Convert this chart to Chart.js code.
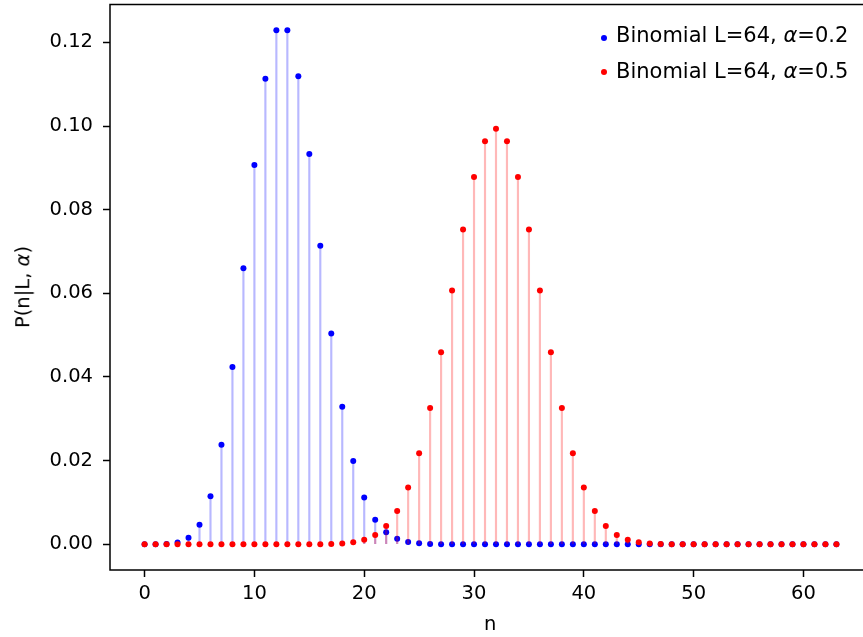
<!DOCTYPE html>
<html>
<head>
<meta charset="utf-8">
<script src="https://cdn.jsdelivr.net/npm/chart.js@4.4.0/dist/chart.umd.min.js"></script>
<style>
  html, body { margin: 0; padding: 0; background: #fff; overflow: hidden; }
  #wrap { position: relative; width: 880px; height: 637px; }
  #chart { position: absolute; left: 0; top: 0; }
  .lbl { position: absolute; font-family: "DejaVu Sans"; font-size: 19.5px; color: #000; white-space: nowrap; line-height: 1; }
  .leg { font-size: 21px; }
  .dot { position: absolute; width: 6px; height: 6px; border-radius: 50%; }
</style>
</head>
<body>
<div id="wrap">
  <canvas id="chart" width="880" height="637" style="width:880px;height:637px"></canvas>
  <span class="dot" style="left:601px;top:35px;background:#0000ff"></span>
  <span class="dot" style="left:601px;top:69px;background:#ff0000"></span>
  <div class="lbl leg" style="left:616px;top:25px">Binomial L=64, <i>α</i>=0.2</div>
  <div class="lbl leg" style="left:616px;top:61px">Binomial L=64, <i>α</i>=0.5</div>
  <div class="lbl" style="left:484px;top:614px">n</div>
  <div class="lbl" style="left:23px;top:287px;transform:translate(-50%,-50%) rotate(-90deg)">P(n|L, <i>α</i>)</div>
</div>
<script>
// n = 0..63
const nValues = [
  0, 1, 2, 3, 4, 5, 6, 7, 8, 9, 10, 11, 12, 13, 14, 15,
  16, 17, 18, 19, 20, 21, 22, 23, 24, 25, 26, 27, 28, 29, 30, 31,
  32, 33, 34, 35, 36, 37, 38, 39, 40, 41, 42, 43, 44, 45, 46, 47,
  48, 49, 50, 51, 52, 53, 54, 55, 56, 57, 58, 59, 60, 61, 62, 63
];

// Binomial L=64, alpha=0.2
const pAlpha02 = [
  0.0000006, 0.00001, 0.000079, 0.00041, 0.00156, 0.00468, 0.0115, 0.0238,
  0.0424, 0.0660, 0.0907, 0.1113, 0.1229, 0.1229, 0.1119, 0.0933,
  0.0714, 0.0504, 0.0329, 0.0199, 0.0112, 0.00587, 0.00287, 0.00131,
  0.00056, 0.00022, 0.00008, 0.00003, 0, 0, 0, 0,
  0, 0, 0, 0, 0, 0, 0, 0,
  0, 0, 0, 0, 0, 0, 0, 0,
  0, 0, 0, 0, 0, 0, 0, 0,
  0, 0, 0, 0, 0, 0, 0, 0
];

// Binomial L=64, alpha=0.5
const pAlpha05 = [
  0, 0, 0, 0, 0, 0, 0, 0,
  0, 0, 0, 0, 0, 0, 0, 0,
  0.00003, 0.00007, 0.0002, 0.00047, 0.00106, 0.00223, 0.00436, 0.00795,
  0.01359, 0.02174, 0.03261, 0.04590, 0.06065, 0.07529, 0.08784, 0.09634,
  0.09935, 0.09634, 0.08784, 0.07529, 0.06065, 0.04590, 0.03261, 0.02174,
  0.01359, 0.00795, 0.00436, 0.00223, 0.00106, 0.00047, 0.0002, 0.00007,
  0.00003, 0, 0, 0, 0, 0, 0, 0,
  0, 0, 0, 0, 0, 0, 0, 0
];

const xTicks = [0, 10, 20, 30, 40, 50, 60];
const yTicks = [0, 0.02, 0.04, 0.06, 0.08, 0.10, 0.12];

const pts = (vals) => nValues.map((n, i) => ({ x: n, y: vals[i] }));

const font = { family: "DejaVu Sans", size: 19.5 };

const frame = {
  id: "frame",
  afterDatasetsDraw(chart) {
    const a = chart.chartArea;
    const ctx = chart.ctx;
    ctx.save();
    ctx.strokeStyle = "#000";
    ctx.lineWidth = 1.5;
    ctx.strokeRect(a.left, a.top, a.right - a.left, a.bottom - a.top);
    ctx.restore();
  }
};

new Chart(document.getElementById("chart"), {
  type: "scatter",
  data: {
    datasets: [
      {
        type: "bar",
        data: pts(pAlpha02),
        backgroundColor: "rgba(0,0,255,0.28)",
        barThickness: 1.5,
        grouped: false,
        order: 4
      },
      {
        data: pts(pAlpha02),
        backgroundColor: "#0000ff",
        borderWidth: 0,
        pointRadius: 3,
        order: 3
      },
      {
        type: "bar",
        data: pts(pAlpha05),
        backgroundColor: "rgba(255,0,0,0.28)",
        barThickness: 1.5,
        grouped: false,
        order: 2
      },
      {
        data: pts(pAlpha05),
        backgroundColor: "#ff0000",
        borderWidth: 0,
        pointRadius: 3,
        order: 1
      }
    ]
  },
  options: {
    responsive: false,
    animation: false,
    layout: { padding: { left: 0, top: 4.5, right: 9, bottom: 0 } },
    plugins: { legend: { display: false }, tooltip: { enabled: false } },
    scales: {
      x: {
        type: "linear",
        offset: false,
        min: -3.15,
        max: 66.15,
        afterBuildTicks: (s) => { s.ticks = xTicks.map((v) => ({ value: v })); },
        afterFit: (s) => { s.height = 67; s.paddingLeft = 0; s.paddingRight = 0; },
        border: { display: false },
        grid: { offset: false, drawOnChartArea: false, drawTicks: true, tickLength: 7, tickWidth: 1.5, tickColor: "#000" },
        ticks: { color: "#000", font: font, padding: 5, maxRotation: 0, autoSkip: false }
      },
      y: {
        type: "linear",
        min: -0.00615,
        max: 0.12906,
        afterBuildTicks: (s) => { s.ticks = yTicks.map((v) => ({ value: v })); },
        afterFit: (s) => { s.width = 110; s.paddingTop = 0; s.paddingBottom = 0; },
        border: { display: false },
        grid: { drawOnChartArea: false, drawTicks: true, tickLength: 7, tickWidth: 1.5, tickColor: "#000" },
        ticks: { color: "#000", font: font, padding: 10, callback: (v) => v.toFixed(2) }
      }
    }
  },
  plugins: [frame]
});
</script>
</body>
</html>
